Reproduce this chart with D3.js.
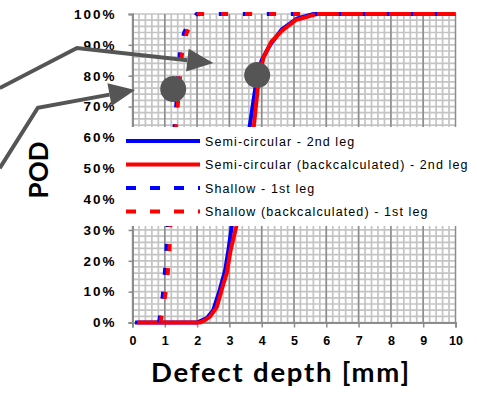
<!DOCTYPE html>
<html>
<head>
<meta charset="utf-8">
<script src="https://cdn.jsdelivr.net/npm/d3@7"></script>
<style>
  body { margin: 0; background: #fff; }
  svg { display: block; }
</style>
</head>
<body>
<div id="chart"></div>
<script>
// Data (x = defect depth mm, y = POD %)
const semiX = [0.08, 2.0, 2.1, 2.3, 2.5, 2.7, 2.87, 2.97, 3.07, 3.3, 3.45, 3.62, 3.86, 4.0, 4.26, 4.62, 5.09, 5.6, 10];
const semiY = [0, 0, 0.5, 1.4, 4, 10.5, 17, 23.5, 31, 45, 55, 63, 80, 85, 90, 95, 98.5, 100, 100];
const semiBcX = [0.15, 2.09, 2.25, 2.4, 2.61, 2.82, 2.92, 3.04, 3.21, 3.4, 3.55, 3.75, 3.92, 4.06, 4.3, 4.62, 5.05, 5.7, 10];
const semiBcY = [0, 0, 0.8, 1.9, 5, 12.7, 16, 23.5, 31, 45, 55, 63, 80, 86, 91, 94.5, 98, 100, 100];
const shallowX = [0.82, 0.9, 0.97, 1.03, 1.07, 1.12, 1.2, 1.32, 1.42, 1.47, 1.6, 1.75, 1.99, 10];
const shallowY = [0, 5, 12, 20, 27, 40, 55, 65, 80.5, 88, 94, 97, 100, 100];
const shallowBcX = [0.87, 0.95, 1.03, 1.1, 1.15, 1.2, 1.28, 1.36, 1.46, 1.53, 1.68, 1.85, 2.05, 10];
const shallowBcY = [0, 5, 10, 17, 25, 40, 55, 65, 78, 87, 94, 97, 100, 100];

const seriesNames = [
  "Semi-circular - 2nd leg",
  "Semi-circular (backcalculated) - 2nd leg",
  "Shallow - 1st leg",
  "Shallow (backcalculated) - 1st leg"
];
const xTicks = [0, 1, 2, 3, 4, 5, 6, 7, 8, 9, 10];
const yTicks = [0, 10, 20, 30, 40, 50, 60, 70, 80, 90, 100];

// annotation marks, in data units
const circleX = [1.26, 3.86];
const circleY = [75.7, 80.2];
const arrow1X = [-4.11, -1.72, 2.5];
const arrow1Y = [76, 89, 84.1];
const arrow2X = [-4.11, -2.93, 0.08];
const arrow2Y = [50, 69.6, 75.4];

const width = 477, height = 396;
const margin = { top: 14, right: 21.5, bottom: 73.5, left: 132.5 };

const svg = d3.select("#chart").append("svg")
  .attr("width", width)
  .attr("height", height);

const x = d3.scaleLinear().domain([0, 10]).range([margin.left, width - margin.right]);
const y = d3.scaleLinear().domain([0, 100]).range([height - margin.bottom, margin.top]);

// Grid: minor every 0.2 mm / 2 %
const grid = svg.append("g");
grid.selectAll("line.hmin")
  .data(d3.range(0, 101, 2))
  .join("line")
  .attr("x1", x(0)).attr("x2", x(10))
  .attr("y1", d => y(d)).attr("y2", d => y(d))
  .attr("stroke", "#c4c4c4").attr("stroke-width", 1.7);
grid.selectAll("line.vmin")
  .data(d3.range(0, 50).map(i => i * 0.2))
  .join("line")
  .attr("x1", d => x(d)).attr("x2", d => x(d))
  .attr("y1", y(0)).attr("y2", y(100))
  .attr("stroke", "#c4c4c4").attr("stroke-width", 1.7);
grid.selectAll("line.vmaj")
  .data(xTicks.slice(1))
  .join("line")
  .attr("x1", d => x(d)).attr("x2", d => x(d))
  .attr("y1", y(0)).attr("y2", y(100))
  .attr("stroke", "#8c8c8c").attr("stroke-width", 1.5);

// Axes
const xAxis = svg.append("g")
  .attr("transform", `translate(0,${y(0)})`)
  .call(d3.axisBottom(x).tickValues(xTicks).tickSize(5).tickPadding(9).tickFormat(d3.format("d")));
const yAxis = svg.append("g")
  .attr("transform", `translate(${x(0)},0)`)
  .call(d3.axisLeft(y).tickValues(yTicks).tickSize(4).tickPadding(12).tickFormat(d => d + "%"));

[xAxis, yAxis].forEach(a => {
  a.select(".domain").attr("stroke", "#8c8c8c").attr("stroke-width", 2);
  a.selectAll(".tick line").attr("stroke", "#8c8c8c").attr("stroke-width", 1.5);
  a.selectAll("text")
    .attr("fill", "#000")
    .style("font-family", "'Liberation Sans', Arial, sans-serif")
    .style("font-weight", "bold");
});
xAxis.selectAll("text").style("font-size", "12.5px");
yAxis.selectAll("text").style("font-size", "13.5px").style("letter-spacing", "2px");

// Series lines
const line = d3.line().x(d => x(d[0])).y(d => y(d[1]));
const zip = (xs, ys) => xs.map((v, i) => [v, ys[i]]);

const series = [
  { pts: zip(semiX, semiY), color: "#0000ff", dash: null, legDash: null },
  { pts: zip(semiBcX, semiBcY), color: "#ff0000", dash: null, legDash: null },
  { pts: zip(shallowX, shallowY), color: "#0000ff", dash: "7,17", legDash: "10,14" },
  { pts: zip(shallowBcX, shallowBcY), color: "#ff0000", dash: "7,17", legDash: "10,14" }
];

svg.selectAll("path.series")
  .data(series)
  .join("path")
  .attr("class", "series")
  .attr("d", d => line(d.pts))
  .attr("fill", "none")
  .attr("stroke", d => d.color)
  .attr("stroke-width", 4)
  .attr("stroke-dasharray", d => d.dash);

// Legend (white box over the plot)
const legend = svg.append("g");
legend.append("rect")
  .attr("x", 124).attr("y", 127)
  .attr("width", width - 124).attr("height", 99)
  .attr("fill", "#fff");
const leg = legend.selectAll("g.item")
  .data(series)
  .join("g")
  .attr("transform", (d, i) => `translate(0,${141 + i * 23.5})`);
leg.append("line")
  .attr("x1", 126).attr("x2", 200)
  .attr("stroke", d => d.color)
  .attr("stroke-width", 4)
  .attr("stroke-dasharray", d => d.legDash);
leg.append("text")
  .attr("x", 205).attr("y", 4.5)
  .style("font-family", "'Liberation Sans', Arial, sans-serif")
  .style("font-size", "12.5px")
  .style("letter-spacing", "1.1px")
  .text((d, i) => seriesNames[i]);

// Axis titles
svg.append("text")
  .attr("x", 280).attr("y", 382)
  .attr("text-anchor", "middle")
  .attr("textLength", 258)
  .attr("lengthAdjust", "spacing")
  .style("font-family", "Lato, 'Open Sans', sans-serif")
  .style("font-weight", "bold")
  .style("font-size", "27.5px")
  .text("Defect depth [mm]");
svg.append("text")
  .attr("transform", "translate(48,170) rotate(-90)")
  .attr("text-anchor", "middle")
  .style("font-family", "Lato, 'Open Sans', sans-serif")
  .style("font-weight", "bold")
  .style("font-size", "26px")
  .text("POD");

// Annotations: arrows and circles
const ann = svg.append("g");
[[arrow1X, arrow1Y], [arrow2X, arrow2Y]].forEach(([ax, ay]) => {
  const pts = zip(ax, ay).map(p => [x(p[0]), y(p[1])]);
  const n = pts.length;
  const tip = pts[n - 1], prev = pts[n - 2];
  const ang = Math.atan2(tip[1] - prev[1], tip[0] - prev[0]);
  const len = 26, half = 11.5;
  const base = [tip[0] - len * Math.cos(ang), tip[1] - len * Math.sin(ang)];
  const shaft = pts.slice(0, n - 1).concat([base]);
  ann.append("path")
    .attr("d", d3.line()(shaft))
    .attr("fill", "none")
    .attr("stroke", "#555")
    .attr("stroke-width", 4);
  const nx = -Math.sin(ang), ny = Math.cos(ang);
  ann.append("path")
    .attr("d", d3.line()([
      tip,
      [base[0] + nx * half, base[1] + ny * half],
      [base[0] - nx * half, base[1] - ny * half]
    ]) + "Z")
    .attr("fill", "#555");
});
ann.selectAll("circle")
  .data(zip(circleX, circleY))
  .join("circle")
  .attr("cx", d => x(d[0]))
  .attr("cy", d => y(d[1]))
  .attr("r", 13)
  .attr("fill", "#555");
</script>
</body>
</html>
